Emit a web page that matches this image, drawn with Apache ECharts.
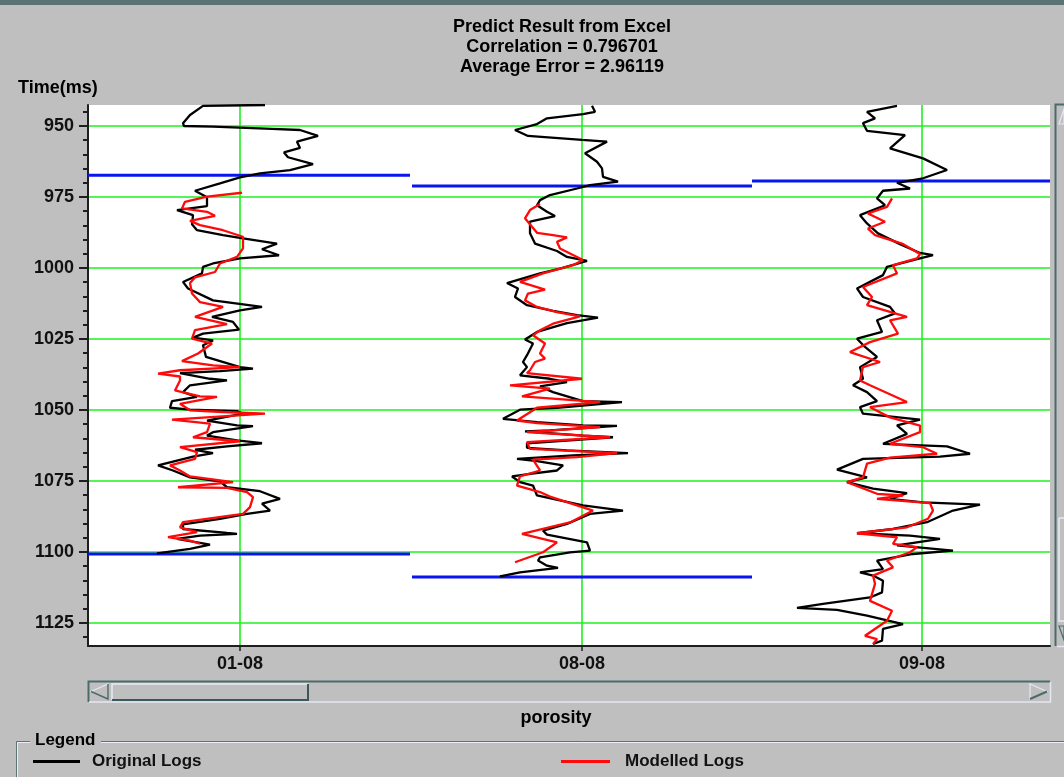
<!DOCTYPE html>
<html>
<head>
<meta charset="utf-8">
<script src="https://cdn.jsdelivr.net/npm/echarts@6/dist/echarts.min.js"></script>
<style>
html,body{margin:0;padding:0;background:#bfbfbf;}
#chart{width:1064px;height:777px;}
</style>
</head>
<body>
<div id="chart"></div>
<script>
// ---------- categories / ticks ----------
const WELLS = ['01-08', '08-08', '09-08'];
const TRACK_OFFSET = [0, 34.2, 68.2];   // porosity offset of each well track on the shared axis
const TRACK_SPAN = 34;                  // porosity width of one track
const CENTER_PORO = 17;                 // porosity at the track centre line
const X_MIN = 1.8, X_MAX = 98;
const Y_TICKS = [950, 975, 1000, 1025, 1050, 1075, 1100, 1125];
const Y_MINOR = [945,950,955,960,965,970,975,980,985,990,995,1000,1005,1010,1015,1020,1025,1030,1035,1040,
                 1045,1050,1055,1060,1065,1070,1075,1080,1085,1090,1095,1100,1105,1110,1115,1120,1125,1130];

// ---------- horizons (ms) ----------
const HORIZON_TOP = [967.3, 971.1, 969.4];
const HORIZON_BASE = [1100.7, 1108.8, null];

// ---------- logs: [time ms, porosity] ----------
const T1_ORIGINAL = [[942.6,19.5],[942.9,13.3],[946.1,12.0],[949.0,11.3],[950.0,11.4],[950.2,14.3],[951.0,20.2],[951.4,23.0],[953.5,24.8],[955.5,22.7],[957.7,23.0],[959.3,21.4],[961.0,21.8],[963.4,24.3],[965.5,22.0],[966.7,19.0],[968.1,17.0],[970.2,15.0],[972.8,12.5],[975.1,13.7],[978.2,13.7],[979.6,10.7],[981.4,12.3],[984.6,12.2],[986.7,12.7],[988.4,15.3],[989.6,17.3],[991.4,20.7],[993.4,19.2],[995.5,20.9],[996.6,17.0],[998.4,14.3],[999.6,13.3],[1001.9,13.2],[1004.9,11.3],[1007.2,11.8],[1011.4,14.3],[1013.7,19.2],[1014.9,17.0],[1017.2,14.2],[1019.0,16.3],[1021.7,16.9],[1023.1,13.3],[1024.5,12.3],[1025.5,14.3],[1027.2,13.3],[1031.3,13.6],[1034.9,17.0],[1035.4,18.3],[1036.3,15.0],[1037.0,11.0],[1039.0,14.0],[1039.6,15.7],[1041.3,12.0],[1043.7,11.3],[1045.4,12.7],[1046.9,10.2],[1049.2,10.0],[1049.9,12.0],[1050.4,16.7],[1051.3,17.3],[1053.7,13.7],[1055.4,16.7],[1055.7,18.3],[1057.8,14.3],[1059.0,13.7],[1060.7,16.7],[1061.7,19.2],[1062.8,15.7],[1064.0,12.5],[1065.2,14.3],[1066.4,12.3],[1069.5,8.8],[1071.3,10.3],[1073.7,12.0],[1075.1,15.0],[1077.2,15.7],[1078.6,19.0],[1081.3,21.0],[1083.0,19.2],[1085.4,20.0],[1086.6,17.7],[1088.3,15.0],[1090.3,11.3],[1091.9,11.3],[1093.3,15.7],[1093.6,16.7],[1094.2,13.0],[1095.4,10.7],[1097.4,14.0],[1098.9,12.0],[1100.5,8.7]];
const T1_MODELLED = [[973.5,17.2],[974.9,13.7],[976.7,11.5],[979.0,11.2],[980.2,13.7],[981.6,14.5],[983.4,12.0],[984.9,13.0],[986.7,15.3],[989.0,17.3],[993.1,17.3],[996.1,16.7],[998.4,15.0],[1001.4,14.5],[1003.3,12.5],[1005.3,12.0],[1009.0,12.2],[1012.0,13.0],[1013.7,15.3],[1017.2,12.5],[1019.8,15.7],[1021.9,12.5],[1024.9,12.2],[1026.6,14.2],[1030.1,12.8],[1032.8,11.2],[1034.3,14.3],[1034.9,17.0],[1036.0,11.0],[1037.2,8.8],[1038.2,11.0],[1039.6,11.0],[1043.1,10.5],[1045.2,13.0],[1045.4,14.7],[1047.8,11.0],[1050.1,12.0],[1050.7,15.3],[1051.3,19.5],[1053.4,10.2],[1054.8,14.0],[1057.8,13.7],[1059.6,12.3],[1061.0,17.0],[1063.1,11.0],[1064.8,12.7],[1067.2,12.5],[1069.5,10.0],[1071.3,11.0],[1073.4,12.0],[1075.4,16.3],[1077.2,10.8],[1077.4,15.7],[1078.9,17.7],[1080.7,18.3],[1084.2,18.0],[1086.6,17.3],[1089.5,11.3],[1091.3,11.0],[1093.0,12.7],[1094.8,9.8],[1096.0,12.0],[1097.1,13.0]];

const T2_ORIGINAL = [[942.9,18.0],[945.0,18.3],[945.8,17.1],[947.3,13.5],[949.3,12.5],[951.4,10.3],[953.5,11.6],[954.9,17.0],[955.5,19.5],[959.6,17.3],[962.6,18.5],[964.9,19.0],[967.9,19.1],[969.6,20.6],[970.8,17.8],[972.0,16.5],[974.3,13.8],[976.1,12.8],[977.9,12.5],[980.2,13.5],[981.7,14.3],[983.7,11.8],[987.8,11.8],[991.4,12.3],[994.0,14.5],[996.1,15.5],[997.5,17.5],[1000.2,14.8],[1001.9,12.8],[1005.3,9.5],[1007.2,10.6],[1010.2,10.3],[1013.1,11.5],[1015.1,14.1],[1016.6,16.5],[1017.5,18.6],[1019.4,15.5],[1022.5,12.5],[1025.2,11.3],[1026.6,12.1],[1030.7,11.5],[1033.1,11.1],[1034.9,11.5],[1037.8,10.8],[1039.0,13.8],[1040.2,15.5],[1041.7,12.8],[1043.7,14.1],[1046.9,17.1],[1047.2,21.0],[1049.2,14.5],[1049.9,10.8],[1053.1,9.1],[1054.3,12.5],[1055.4,17.1],[1055.6,20.5],[1057.2,13.8],[1057.5,11.3],[1059.0,17.1],[1059.6,20.1],[1060.7,15.8],[1061.7,11.5],[1063.3,11.5],[1064.2,15.5],[1065.2,21.6],[1066.0,16.1],[1067.2,10.5],[1068.0,12.5],[1069.5,15.1],[1071.3,14.5],[1072.5,11.8],[1073.4,10.0],[1075.4,10.8],[1076.6,12.1],[1080.1,12.5],[1081.3,14.1],[1083.6,17.1],[1085.4,21.1],[1086.6,17.8],[1090.1,15.5],[1092.5,13.1],[1093.9,13.5],[1096.6,17.5],[1099.5,17.8],[1100.1,15.8],[1101.9,12.8],[1103.0,12.6],[1104.8,13.5],[1105.6,14.6],[1107.2,10.8],[1108.6,8.8]];
const T2_MODELLED = [[977.5,12.8],[979.6,11.8],[982.5,11.3],[985.5,12.0],[987.6,12.5],[988.4,14.1],[989.2,15.5],[990.8,14.5],[993.1,14.8],[997.2,17.1],[999.0,16.1],[1001.9,13.1],[1004.9,10.8],[1006.7,12.5],[1007.6,13.3],[1009.0,11.6],[1011.4,11.3],[1013.7,12.5],[1015.5,14.5],[1017.0,16.8],[1019.6,14.1],[1021.9,12.8],[1023.7,12.1],[1026.6,13.3],[1030.1,12.8],[1031.9,13.3],[1033.1,12.3],[1036.0,11.8],[1037.0,11.5],[1039.0,17.0],[1041.3,9.8],[1042.5,13.8],[1045.2,11.0],[1047.2,18.8],[1049.2,12.5],[1053.7,10.5],[1054.6,12.5],[1056.0,18.8],[1057.8,11.5],[1059.6,19.8],[1061.3,11.5],[1063.7,11.8],[1065.2,20.5],[1066.6,16.5],[1067.5,12.1],[1071.3,12.8],[1073.4,10.8],[1076.6,10.5],[1078.9,12.8],[1080.5,13.8],[1085.4,18.1],[1089.6,15.8],[1093.6,11.0],[1096.6,14.5],[1100.1,13.1],[1103.6,10.3]];

const T3_ORIGINAL = [[942.9,14.5],[945.0,11.5],[947.3,12.3],[949.0,11.1],[951.7,11.5],[953.2,15.3],[957.9,13.8],[961.4,17.1],[965.5,19.5],[968.4,17.1],[970.0,14.5],[972.0,15.8],[972.8,13.1],[975.5,12.5],[977.9,13.3],[981.4,10.8],[984.3,11.5],[987.8,12.6],[991.6,14.8],[994.7,16.8],[995.5,18.1],[996.6,16.8],[999.6,13.5],[1002.5,13.1],[1007.2,10.5],[1010.2,11.1],[1013.7,13.8],[1016.0,14.3],[1018.4,12.5],[1022.5,13.0],[1024.9,10.5],[1027.8,11.3],[1031.3,12.5],[1034.9,10.8],[1039.0,11.1],[1041.3,10.1],[1043.7,11.5],[1046.9,12.5],[1049.0,10.8],[1051.3,11.1],[1053.4,16.8],[1055.4,14.5],[1058.4,15.5],[1061.9,13.1],[1062.8,19.5],[1065.4,21.8],[1066.4,18.8],[1067.2,11.1],[1071.0,8.5],[1073.7,11.5],[1075.4,9.5],[1077.7,12.1],[1079.3,15.5],[1081.3,13.8],[1082.5,17.1],[1083.3,22.8],[1085.4,20.1],[1089.5,17.5],[1091.9,14.1],[1093.4,10.5],[1094.2,15.8],[1095.4,18.8],[1097.7,14.5],[1099.5,20.1],[1100.7,16.1],[1103.0,12.5],[1106.0,13.1],[1107.2,10.8],[1108.3,12.1],[1110.1,13.1],[1114.2,13.0],[1116.0,11.8],[1118.3,7.1],[1119.7,4.5],[1120.4,8.5],[1122.4,11.5],[1125.4,15.1],[1127.1,13.1],[1131.2,13.0],[1132.4,12.1]];
const T3_MODELLED = [[975.5,14.0],[978.5,13.5],[980.8,11.6],[983.7,13.3],[986.1,11.6],[988.4,12.3],[991.4,15.0],[995.1,16.8],[996.6,16.5],[999.0,14.1],[1001.9,14.5],[1006.7,11.1],[1010.2,12.0],[1013.1,11.5],[1017.2,15.5],[1018.4,13.8],[1023.1,14.6],[1026.1,11.8],[1029.6,9.8],[1033.1,12.8],[1034.9,11.1],[1039.6,10.8],[1041.3,11.8],[1047.2,15.5],[1049.0,11.8],[1052.6,13.8],[1055.5,16.8],[1057.8,16.8],[1061.9,13.8],[1063.1,17.1],[1065.4,18.5],[1066.8,13.8],[1068.9,11.5],[1073.7,11.1],[1075.4,9.5],[1079.5,12.5],[1080.1,15.1],[1081.3,12.5],[1082.8,17.8],[1085.4,18.1],[1088.3,17.6],[1091.3,15.5],[1093.4,10.5],[1094.8,14.5],[1097.1,14.1],[1098.3,16.5],[1100.1,15.8],[1103.0,13.5],[1105.4,14.1],[1108.3,12.1],[1111.2,12.3],[1117.2,11.8],[1120.7,14.0],[1124.2,13.5],[1129.5,11.3],[1130.7,12.5],[1132.4,12.1]];

const ORIGINAL_LOGS = [T1_ORIGINAL, T2_ORIGINAL, T3_ORIGINAL];
const MODELLED_LOGS = [T1_MODELLED, T2_MODELLED, T3_MODELLED];

// ---------- build ----------
const FONT = 'Liberation Sans, Arial, Helvetica, sans-serif';
const GREEN = '#1ff01f';
const AXIS_DARK = '#1e1e1e';
const WELL_CENTERS = TRACK_OFFSET.map(o => o + CENTER_PORO);

const series = [];
TRACK_OFFSET.forEach((off, i) => {
  const hz = [HORIZON_TOP[i], HORIZON_BASE[i]];
  hz.forEach(t => {
    if (t === null) return;
    series.push({
      type: 'line', name: 'Horizon', z: 2, symbol: 'none', silent: true,
      data: [[Math.max(off, X_MIN), t], [Math.min(off + TRACK_SPAN, X_MAX), t]],
      lineStyle: { color: '#0a14f0', width: 3, cap: 'butt' }, itemStyle: { color: '#0a14f0' }
    });
  });
});
ORIGINAL_LOGS.forEach((log, i) => {
  series.push({
    type: 'line', name: 'Original Logs', z: 3, symbol: 'none', silent: true,
    data: log.map(([t, p]) => [TRACK_OFFSET[i] + p, t]),
    color: '#000000', lineStyle: { color: '#000000', width: 2.3 }
  });
});
MODELLED_LOGS.forEach((log, i) => {
  series.push({
    type: 'line', name: 'Modelled Logs', z: 4, symbol: 'none', silent: true,
    data: log.map(([t, p]) => [TRACK_OFFSET[i] + p, t]),
    color: '#ff0a0a', lineStyle: { color: '#ff0a0a', width: 2.3 }
  });
});

const legendText = { fontFamily: FONT, fontSize: 17, fontWeight: 'bold', color: '#111', padding: [0, 0, 0, 7] };

const option = {
  animation: false,
  backgroundColor: '#bfbfbf',
  title: [
    { text: 'Predict Result from Excel\nCorrelation = 0.796701\nAverage Error = 2.96119',
      left: 562, top: 17, textAlign: 'center', padding: 0,
      textStyle: { fontFamily: FONT, fontSize: 18, fontWeight: 'bold', color: '#000', lineHeight: 20 } },
    { text: 'Time(ms)', left: 18, top: 79, padding: 0,
      textStyle: { fontFamily: FONT, fontSize: 18, fontWeight: 'bold', color: '#000', lineHeight: 18 } },
    { text: 'Legend', left: 35, top: 731, padding: 0,
      textStyle: { fontFamily: FONT, fontSize: 17, fontWeight: 'bold', color: '#000', lineHeight: 18 } }
  ],
  legend: [
    { data: ['Original Logs'], left: 33, top: 753, padding: 0, icon: 'rect', itemWidth: 47, itemHeight: 3,
      selectedMode: false, textStyle: legendText },
    { data: ['Modelled Logs'], left: 561, top: 753, padding: 0, icon: 'rect', itemWidth: 49, itemHeight: 3,
      selectedMode: false, textStyle: Object.assign({}, legendText, { padding: [0, 0, 0, 10] }) }
  ],
  grid: { left: 88, right: 14, top: 105, bottom: 131, show: true, backgroundColor: '#ffffff', borderWidth: 0 },
  xAxis: {
    type: 'value', min: X_MIN, max: X_MAX,
    axisLine: { show: true, onZero: false, lineStyle: { color: AXIS_DARK, width: 2 } },
    axisTick: { show: true, customValues: WELL_CENTERS, length: 5, lineStyle: { color: AXIS_DARK, width: 1.5 } },
    axisLabel: {
      customValues: WELL_CENTERS, margin: 9,
      formatter: v => {
        let best = 0;
        WELL_CENTERS.forEach((c, k) => { if (Math.abs(c - v) < Math.abs(WELL_CENTERS[best] - v)) best = k; });
        return WELLS[best];
      },
      fontFamily: FONT, fontSize: 18, fontWeight: 'bold', color: '#111'
    },
    splitLine: { show: true, lineStyle: { color: GREEN, width: 1.6 } },
    name: 'porosity', nameLocation: 'middle', nameGap: 63,
    nameTextStyle: { fontFamily: FONT, fontSize: 18, fontWeight: 'bold', color: '#000', padding: [0, 26, 0, 0] }
  },
  yAxis: [
    {
      type: 'value', inverse: true, min: 942.6, max: 1133.1, position: 'left',
      axisLine: { show: true, lineStyle: { color: AXIS_DARK, width: 2 } },
      axisTick: { show: true, customValues: Y_TICKS, length: 9, lineStyle: { color: AXIS_DARK, width: 2 } },
      axisLabel: { customValues: Y_TICKS, margin: 14, formatter: v => String(v),
        fontFamily: FONT, fontSize: 18, fontWeight: 'bold', color: '#111' },
      splitLine: { show: true, lineStyle: { color: GREEN, width: 1.6 } }
    },
    {
      type: 'value', inverse: true, min: 942.6, max: 1133.1, position: 'left',
      axisLine: { show: false },
      axisTick: { show: true, customValues: Y_MINOR, length: 5, lineStyle: { color: AXIS_DARK, width: 2 } },
      axisLabel: { show: false },
      splitLine: { show: false }
    }
  ],
  graphic: [
    // window top border
    { type: 'rect', shape: { x: 0, y: 0, width: 1064, height: 5 }, style: { fill: '#5b7473' }, silent: true },
    // horizontal scrollbar trough
    { type: 'rect', shape: { x: 88, y: 681, width: 962, height: 21 }, style: { fill: '#bfbfbf', stroke: null }, silent: true },
    { type: 'polyline', shape: { points: [[88.5, 702], [88.5, 681.5], [1050, 681.5]] }, style: { stroke: '#4c6a6a', lineWidth: 2, fill: null }, silent: true },
    { type: 'polyline', shape: { points: [[89, 702], [1050.5, 702], [1050.5, 682]] }, style: { stroke: '#e6e6f4', lineWidth: 1.5, fill: null }, silent: true },
    // thumb
    { type: 'polyline', shape: { points: [[112, 700], [112, 684], [308, 684]] }, style: { stroke: '#eaeaf6', lineWidth: 1.5, fill: null }, silent: true },
    { type: 'polyline', shape: { points: [[112, 700], [308, 700], [308, 684]] }, style: { stroke: '#3c5858', lineWidth: 2, fill: null }, silent: true },
    // arrows
    { type: 'polygon', shape: { points: [[91, 691.5], [108, 684], [108, 699]] }, style: { fill: '#bfbfbf', stroke: '#e6e6f4', lineWidth: 1.2 }, silent: true },
    { type: 'polyline', shape: { points: [[91, 691.5], [108, 699], [108, 684]] }, style: { stroke: '#4c6a6a', lineWidth: 1.5, fill: null }, silent: true },
    { type: 'polygon', shape: { points: [[1047, 691.5], [1030, 684], [1030, 699]] }, style: { fill: '#bfbfbf', stroke: '#e6e6f4', lineWidth: 1.2 }, silent: true },
    { type: 'polyline', shape: { points: [[1030, 699], [1047, 691.5]] }, style: { stroke: '#4c6a6a', lineWidth: 2, fill: null }, silent: true },
    // vertical scrollbar on the right
    { type: 'polyline', shape: { points: [[1055.5, 646], [1055.5, 104.5], [1064, 104.5]] }, style: { stroke: '#4c6a6a', lineWidth: 2, fill: null }, silent: true },
    { type: 'polyline', shape: { points: [[1057, 646.5], [1064, 646.5]] }, style: { stroke: '#e6e6f4', lineWidth: 1.5, fill: null }, silent: true },
    { type: 'polygon', shape: { points: [[1064, 109], [1059, 124], [1064, 124]] }, style: { fill: '#bfbfbf', stroke: '#e6e6f4', lineWidth: 1.2 }, silent: true },
    { type: 'polyline', shape: { points: [[1059, 518], [1064, 518]] }, style: { stroke: '#eaeaf6', lineWidth: 1.5, fill: null }, silent: true },
    { type: 'polyline', shape: { points: [[1059, 518], [1059, 621], [1064, 621]] }, style: { stroke: '#eaeaf6', lineWidth: 1.5, fill: null }, silent: true },
    { type: 'polygon', shape: { points: [[1064, 640], [1059, 626], [1064, 626]] }, style: { fill: '#bfbfbf', stroke: '#4c6a6a', lineWidth: 1.2 }, silent: true },
    // legend groove frame
    { type: 'polyline', shape: { points: [[30, 741.5], [16.5, 741.5], [16.5, 777]] }, style: { stroke: '#5b7473', lineWidth: 1, fill: null }, silent: true },
    { type: 'polyline', shape: { points: [[30, 742.5], [17.5, 742.5], [17.5, 777]] }, style: { stroke: '#eeeef8', lineWidth: 1, fill: null }, silent: true },
    { type: 'line', shape: { x1: 101, y1: 741.5, x2: 1064, y2: 741.5 }, style: { stroke: '#5b7473', lineWidth: 1 }, silent: true },
    { type: 'line', shape: { x1: 101, y1: 742.5, x2: 1064, y2: 742.5 }, style: { stroke: '#eeeef8', lineWidth: 1 }, silent: true }
  ],
  series: series
};

const chart = echarts.init(document.getElementById('chart'), null, { renderer: 'canvas' });
chart.setOption(option);
</script>
</body>
</html>
